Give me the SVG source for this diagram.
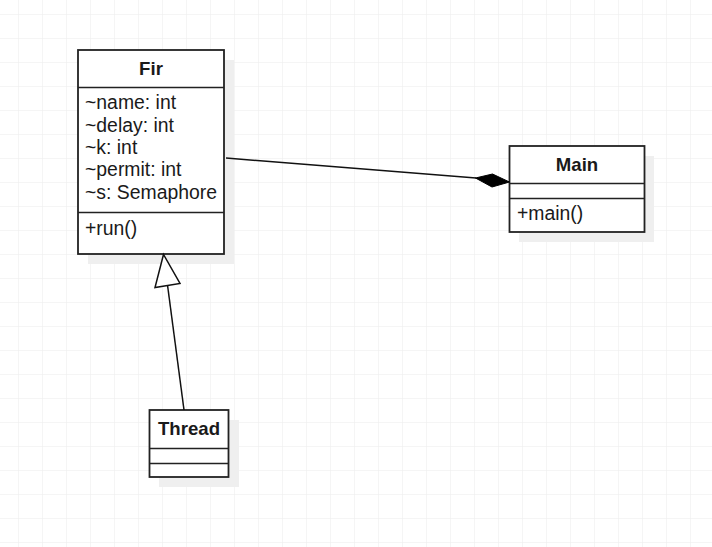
<svg xmlns="http://www.w3.org/2000/svg" width="712" height="547" viewBox="0 0 712 547">
<defs>
<pattern id="grid" x="18" y="14" width="24" height="24" patternUnits="userSpaceOnUse">
<path d="M0 0H24M0 0V24" fill="none" stroke="#ececec" stroke-width="1"/>
</pattern>
</defs>
<style>
.box{fill:#fff;stroke:#222;stroke-width:1.8}
.sh{fill:#efefef}
.sep{stroke:#222;stroke-width:1.6}
.t{font-family:"Liberation Sans",Arial,sans-serif;font-size:19.4px;fill:#1a1a1a}
.b{font-weight:bold;text-anchor:middle;font-size:18.6px}
.ln{stroke:#111;stroke-width:1.5;fill:none}
</style>
<rect width="712" height="547" fill="#fff"/>
<rect width="712" height="547" fill="url(#grid)"/>
<g id="Fir">
<rect class="sh" x="88" y="60" width="146" height="204"/>
<rect class="box" x="78" y="50" width="146" height="204"/>
<line class="sep" x1="78" y1="87.5" x2="224" y2="87.5"/>
<line class="sep" x1="78" y1="212.5" x2="224" y2="212.5"/>
<text class="t b" x="151" y="75">Fir</text>
<text class="t" x="85" y="109">~name: int</text>
<text class="t" x="85" y="131.5">~delay: int</text>
<text class="t" x="85" y="153.5">~k: int</text>
<text class="t" x="85" y="176">~permit: int</text>
<text class="t" x="85" y="198.5">~s: Semaphore</text>
<text class="t" x="85" y="235">+run()</text>
</g>
<g id="Main">
<rect class="sh" x="519" y="156" width="135" height="86"/>
<rect class="box" x="509.5" y="146" width="135" height="86"/>
<line class="sep" x1="509.5" y1="183.5" x2="644.5" y2="183.5"/>
<line class="sep" x1="509.5" y1="198.5" x2="644.5" y2="198.5"/>
<text class="t b" x="577" y="171">Main</text>
<text class="t" x="517" y="220">+main()</text>
</g>
<g id="Thread">
<rect class="sh" x="159" y="420" width="80" height="67"/>
<rect class="box" x="149.5" y="410" width="79" height="67"/>
<line class="sep" x1="149.5" y1="448.5" x2="228.5" y2="448.5"/>
<line class="sep" x1="149.5" y1="463.5" x2="228.5" y2="463.5"/>
<text class="t b" x="189" y="435">Thread</text>
</g>
<g id="connectors">
<line class="ln" x1="184" y1="410" x2="167.5" y2="285"/>
<path d="M163.5 254.5L155 287.5L180 283.5Z" fill="#fff" stroke="#111" stroke-width="1.5"/>
<line class="ln" x1="226" y1="158" x2="476" y2="178"/>
<path d="M475.5 178L492.5 174L509.5 182L492 187Z" fill="#000" stroke="#000" stroke-width="1"/>
</g>
</svg>
